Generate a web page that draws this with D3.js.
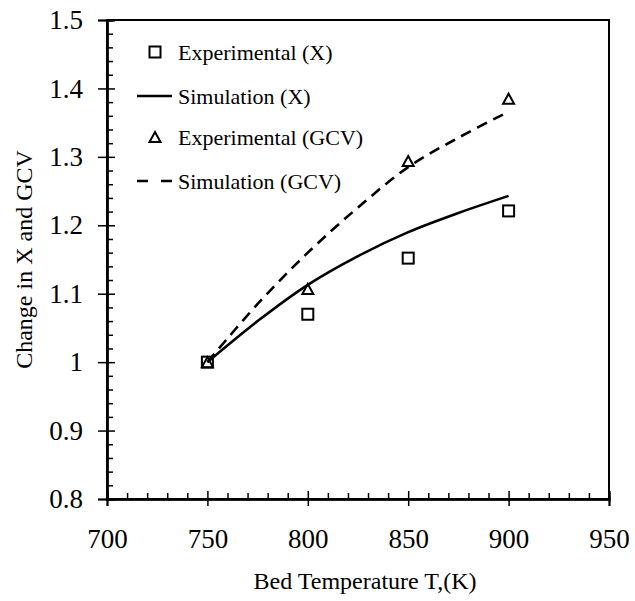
<!DOCTYPE html>
<html>
<head>
<meta charset="utf-8">
<script src="https://cdn.jsdelivr.net/npm/d3@7"></script>
<style>
  html, body { margin: 0; padding: 0; background: #fff; }
  svg { display: block; }
  text { font-family: "Liberation Serif", "Times New Roman", serif; fill: #000; }
</style>
</head>
<body>
<svg id="chart" width="635" height="601"></svg>
<script>
// ---- data ----
const expTemps = [750, 800, 850, 900];
const expX = [1.0, 1.07, 1.152, 1.221];
const expGCV = [1.0, 1.107, 1.294, 1.385];
const simTemps = [750, 775, 800, 825, 850, 875, 900];
const simX = [1.0, 1.06, 1.113, 1.155, 1.19, 1.218, 1.243];
const simGCV = [1.0, 1.085, 1.16, 1.226, 1.285, 1.328, 1.366];
const xTicks = [700, 750, 800, 850, 900, 950];
const yTicks = [0.8, 0.9, 1.0, 1.1, 1.2, 1.3, 1.4, 1.5];
const yTickLabels = ["0.8", "0.9", "1", "1.1", "1.2", "1.3", "1.4", "1.5"];
const legendLabels = ["Experimental (X)", "Simulation (X)", "Experimental (GCV)", "Simulation (GCV)"];
const xTitle = "Bed Temperature T,(K)";
const yTitle = "Change in X and GCV";

// ---- layout ----
const svg = d3.select("#chart");
const L = 107, T = 20, R = 609, B = 499;
const x = d3.scaleLinear().domain([700, 950]).range([L, R]);
const y = d3.scaleLinear().domain([0.8, 1.5]).range([B, T]);

const xMinor = d3.range(700, 951, 10).filter(v => v % 50 !== 0);
const yMinor = d3.range(0, 36).map(i => +(0.8 + i * 0.02).toFixed(2)).filter(v => Math.abs(v * 10 - Math.round(v * 10)) > 1e-6);

// frame
svg.append("rect").attr("x", L).attr("y", T).attr("width", R - L).attr("height", B - T)
  .attr("fill", "none").attr("stroke", "#000").attr("stroke-width", 2);

// x axis
const gx = svg.append("g").attr("transform", `translate(0,${B})`)
  .call(d3.axisBottom(x).tickValues(xTicks).tickFormat(d3.format("d")).tickSize(7).tickPadding(23));
gx.selectAll("text").attr("font-size", 27).style("font-family", "Liberation Serif");
svg.append("g").attr("transform", `translate(0,${B})`)
  .call(d3.axisBottom(x).tickValues(xTicks).tickFormat("").tickSize(-8));
svg.append("g").attr("transform", `translate(0,${B})`)
  .call(d3.axisBottom(x).tickValues(xMinor).tickFormat("").tickSize(-6));

// y axis
const gy = svg.append("g").attr("transform", `translate(${L},0)`)
  .call(d3.axisLeft(y).tickValues(yTicks).tickFormat((d, i) => yTickLabels[i]).tickSize(9).tickPadding(15));
gy.selectAll("text").attr("font-size", 27).style("font-family", "Liberation Serif");
svg.append("g").attr("transform", `translate(${L},0)`)
  .call(d3.axisLeft(y).tickValues(yTicks).tickFormat("").tickSize(-8));
svg.append("g").attr("transform", `translate(${L},0)`)
  .call(d3.axisLeft(y).tickValues(yMinor).tickFormat("").tickSize(-6));

svg.selectAll(".domain").attr("stroke", "#000").attr("stroke-width", 2);
svg.selectAll(".tick line").attr("stroke", "#000").attr("stroke-width", 1.5);

// lines
const line = d3.line().curve(d3.curveCatmullRom.alpha(0.5));
svg.append("path")
  .attr("d", line(simTemps.map((t, i) => [x(t), y(simX[i])])))
  .attr("fill", "none").attr("stroke", "#000").attr("stroke-width", 2.6);
svg.append("path")
  .attr("d", line(simTemps.map((t, i) => [x(t), y(simGCV[i])])))
  .attr("fill", "none").attr("stroke", "#000").attr("stroke-width", 2.6)
  .attr("stroke-dasharray", "11,7");

// markers
const sq = 11;
function square(g, cx, cy) {
  g.append("rect").attr("x", cx - sq / 2).attr("y", cy - sq / 2).attr("width", sq).attr("height", sq)
    .attr("fill", "none").attr("stroke", "#000").attr("stroke-width", 2);
}
function triangle(g, cx, cy) {
  const h = 10, w = 11;
  g.append("path").attr("d", `M${cx},${cy - h / 2}L${cx + w / 2},${cy + h / 2}L${cx - w / 2},${cy + h / 2}Z`)
    .attr("fill", "none").attr("stroke", "#000").attr("stroke-width", 2).attr("stroke-linejoin", "miter");
}
const gm = svg.append("g");
expTemps.forEach((t, i) => square(gm, x(t), y(expX[i])));
expTemps.forEach((t, i) => triangle(gm, x(t), y(expGCV[i])));

// legend
const lg = svg.append("g");
const rows = [52, 96, 137, 181];
const lx0 = 137, lx1 = 172, tx = 178;
square(lg, 155, rows[0]);
lg.append("line").attr("x1", lx0).attr("x2", lx1).attr("y1", rows[1]).attr("y2", rows[1])
  .attr("stroke", "#000").attr("stroke-width", 2.6);
triangle(lg, 155, rows[2]);
lg.append("line").attr("x1", lx0).attr("x2", lx1).attr("y1", rows[3]).attr("y2", rows[3])
  .attr("stroke", "#000").attr("stroke-width", 2.6).attr("stroke-dasharray", "11,13");
legendLabels.forEach((s, i) => {
  lg.append("text").attr("x", tx).attr("y", rows[i]).attr("dy", "0.35em")
    .attr("font-size", 22).text(s);
});

// titles
svg.append("text").attr("x", 365).attr("y", 589).attr("text-anchor", "middle")
  .attr("font-size", 24).text(xTitle);
svg.append("text").attr("transform", `translate(32,${(T + B) / 2}) rotate(-90)`)
  .attr("text-anchor", "middle").attr("font-size", 24).text(yTitle);
</script>
</body>
</html>
